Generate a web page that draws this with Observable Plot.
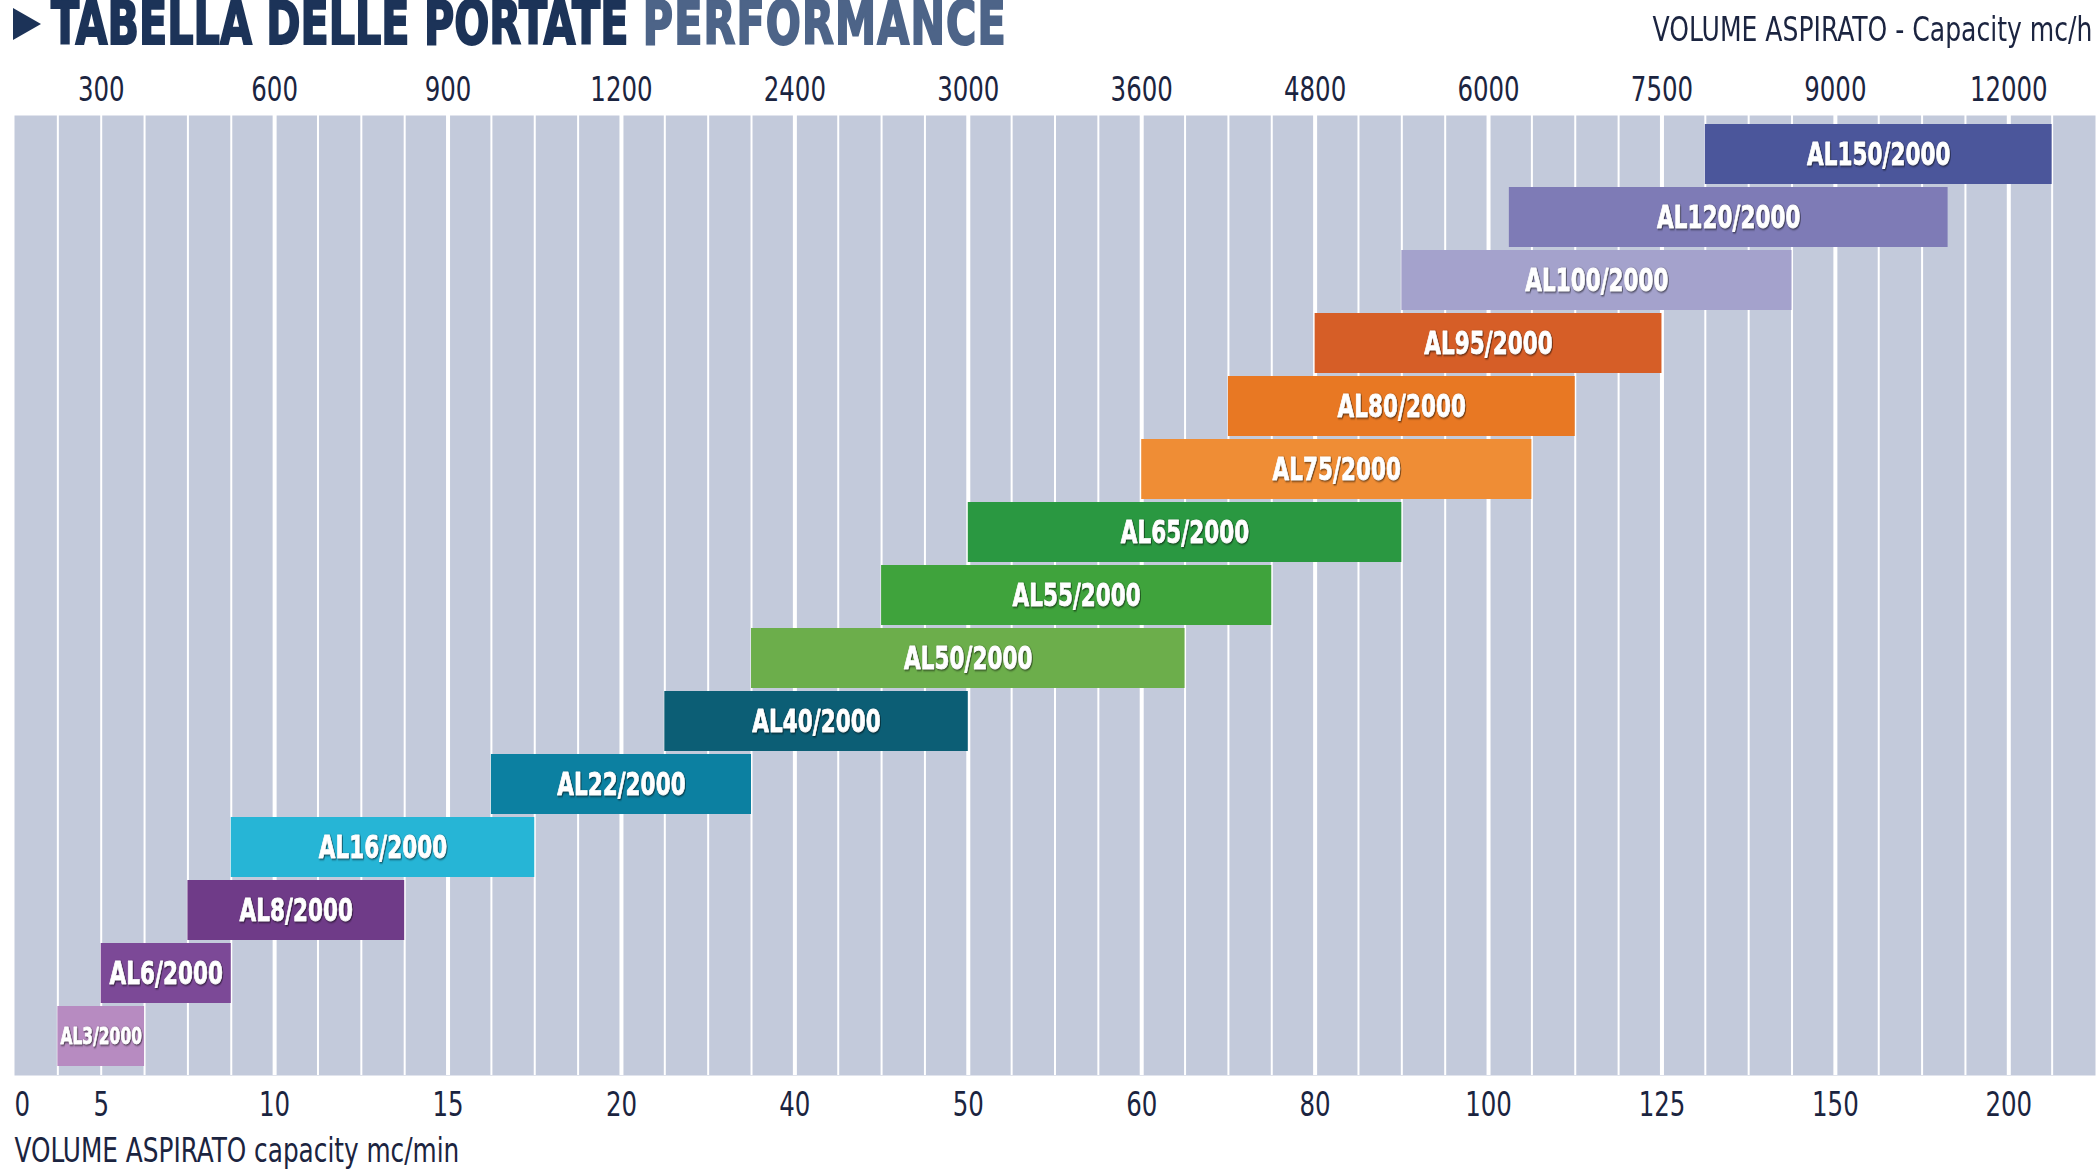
<!DOCTYPE html>
<html>
<head>
<meta charset="utf-8">
<script src="https://cdn.jsdelivr.net/npm/d3@7"></script>
<script src="https://cdn.jsdelivr.net/npm/@observablehq/plot@0.6"></script>
<style>
  body { margin: 0; background: #fff; width: 2100px; height: 1170px; overflow: hidden;
         font-family: "DejaVu Sans Condensed", "DejaVu Sans", sans-serif; }
  #header { position: relative; height: 50px; overflow: hidden; }
  #tri { position: absolute; left: 13px; top: 8px; width: 0; height: 0;
         border-left: 28px solid #1c3358; border-top: 16px solid transparent; border-bottom: 16px solid transparent; }
  #title { position: absolute; left: 51px; top: 1px; font-weight: bold; font-size: 60px; line-height: 44px; height: 48px;
           white-space: nowrap; transform-origin: 0 0; transform: scaleX(0.765); color: #1c3358;
           -webkit-text-stroke: 2px #1c3358; }
  #title .b { color: #4d6488; -webkit-text-stroke: 2px #4d6488; letter-spacing: 1.5px; }
  #unitTop { position: absolute; right: 8px; top: 12px; font-size: 34px; line-height: 1; color: #1b2440;
             white-space: nowrap; transform-origin: 100% 0; transform: scaleX(0.82); }
</style>
</head>
<body>
<div id="header">
  <div id="tri"></div>
  <div id="title">TABELLA DELLE PORTATE <span class="b">PERFORMANCE</span></div>
  <div id="unitTop">VOLUME ASPIRATO - Capacity mc/h</div>
</div>
<div id="chart"></div>
<script>
// ---- data ----
const minTicks  = [0, 5, 10, 15, 20, 40, 50, 60, 80, 100, 125, 150, 200];          // mc/min
const hourTicks = [null, 300, 600, 900, 1200, 2400, 3000, 3600, 4800, 6000, 7500, 9000, 12000]; // mc/h
const models  = ["AL150/2000","AL120/2000","AL100/2000","AL95/2000","AL80/2000","AL75/2000","AL65/2000",
                 "AL55/2000","AL50/2000","AL40/2000","AL22/2000","AL16/2000","AL8/2000","AL6/2000","AL3/2000"];
const fromMin = [131.25, 103, 90, 80, 70, 60, 50, 45, 35, 25, 16.25, 8.75, 7.5, 5, 2.5];
const toMin   = [212.5, 182.5, 143.75, 125, 112.5, 106.25, 90, 75, 65, 50, 35, 17.5, 13.75, 8.75, 6.25];
const colors  = ["#4b569b","#7e7bb6","#a4a2cc","#d65e27","#e87823","#ef8d35","#2a9841",
                 "#3fa33c","#6cae4b","#0c5e75","#0c80a1","#26b5d6","#6f3b88","#7c4997","#b78bc1"];
const axisTitle = "VOLUME ASPIRATO capacity mc/min";

// ---- layout of the non-uniform axis (columns per tick interval) ----
const xEnd = 225;                                   // right edge of the grid (mc/min)
const xDomain = [...minTicks, xEnd];
const colsPerInterval = [2, 4, 4, 4, 4, 4, 4, 4, 4, 4, 4, 4, 2];
const W = 2100, H = 1120, mL = 14, mR = 5, mT = 65, mB = 95;
const nCols = d3.sum(colsPerInterval);
const colW = (W - mL - mR) / nCols;
const cum = [0, ...d3.cumsum(colsPerInterval)];
const xRange = cum.map(c => mL + c * colW);
const xs = d3.scaleLinear(xDomain, xRange);

const rows = models.map((m, i) => ({model: m, from: fromMin[i], to: toMin[i], color: colors[i],
  mid: xs.invert((xs(fromMin[i]) + xs(toMin[i])) / 2)}));

const boundaries = [];
xDomain.slice(0, -1).forEach((a, i) => {
  const b = xDomain[i + 1], n = colsPerInterval[i];
  for (let k = (i === 0 ? 1 : 0); k < n; k++) boundaries.push({v: a + (b - a) * k / n, major: k === 0 && i >= 2});
});

const tickRows = minTicks.map((v, i) => ({min: v, hour: hourTicks[i]}));
const FONT = '"DejaVu Sans Condensed", "DejaVu Sans", sans-serif';
const INK = "#1b2440";

const chart = Plot.plot({
  width: W, height: H,
  marginLeft: mL, marginRight: mR, marginTop: mT, marginBottom: mB,
  style: {fontFamily: FONT, background: "white"},
  x: {type: "linear", domain: xDomain, range: xRange, axis: null},
  y: {type: "band", domain: models, paddingInner: 0.05, paddingOuter: 0.075, axis: null},
  color: {type: "identity"},
  marks: [
    Plot.frame({fill: "#c3cadb", stroke: "none"}),
    Plot.ruleX(boundaries, {x: "v", stroke: "white", strokeWidth: d => d.major ? 4 : 2}),
    Plot.barX(rows, {x1: "from", x2: "to", y: "model", fill: "color"}),
    Plot.text(rows, {x: "mid", y: "model", text: "model", fill: "white", stroke: "white", strokeWidth: 0.8,
      fontWeight: "bold", fontFamily: FONT, fontSize: d => d.model === "AL3/2000" ? 23 : 32}),
    // bottom tick labels (mc/min)
    Plot.text(tickRows.filter(d => d.min !== 0), {x: "min", text: d => String(d.min), frameAnchor: "bottom",
      lineAnchor: "middle", dy: 30, fontSize: 34, fill: INK, fontFamily: FONT}),
    Plot.text(tickRows.filter(d => d.min === 0), {x: "min", text: d => String(d.min), frameAnchor: "bottom",
      lineAnchor: "middle", dy: 30, fontSize: 34, fill: INK, fontFamily: FONT, textAnchor: "start"}),
    // top tick labels (mc/h)
    Plot.text(tickRows.filter(d => d.hour != null), {x: "min", text: d => String(d.hour), frameAnchor: "top",
      lineAnchor: "middle", dy: -25, fontSize: 34, fill: INK, fontFamily: FONT}),
    // bottom axis title
    Plot.text([axisTitle], {text: d => d, frameAnchor: "bottom-left", lineAnchor: "middle",
      dy: 76, textAnchor: "start", fontSize: 34, fill: INK, fontFamily: FONT})
  ]
});

// condense the lettering horizontally (narrow typeface look) and add the label shadow
const modelSet = new Set(models);
chart.querySelectorAll("text").forEach(t => {
  const s = t.textContent;
  const k = modelSet.has(s) ? 0.75 : s === axisTitle ? 0.81 : 0.8;
  t.setAttribute("transform", (t.getAttribute("transform") || "") + ` scale(${k},1)`);
  if (modelSet.has(s)) t.style.filter = "drop-shadow(1.5px 1.5px 1px rgba(0,0,0,0.65))";
});

document.getElementById("chart").appendChild(chart);
</script>
</body>
</html>
